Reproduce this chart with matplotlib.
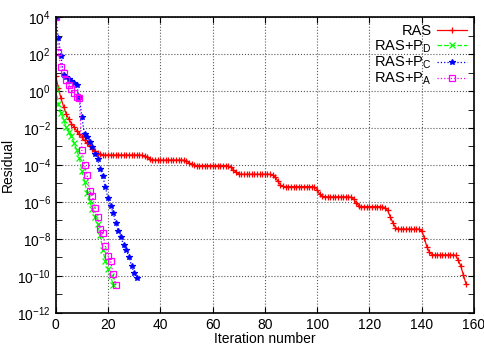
import numpy as np
import matplotlib
matplotlib.use("Agg")
import matplotlib.pyplot as plt

# log10(residual) per iteration
ras_log = [
    0.80, 0.15, -0.40, -0.85, -1.25, -1.52, -1.76, -1.96, -2.15, -2.32,
    -2.50, -2.66, -2.83, -2.98, -3.12, -3.25, -3.36, -3.43, -3.46, -3.46,
    -3.46, -3.46, -3.46, -3.46, -3.46, -3.46, -3.46, -3.46, -3.46, -3.46,
    -3.46, -3.46, -3.46, -3.47, -3.50, -3.58, -3.67, -3.72, -3.73, -3.73,
    -3.73, -3.73, -3.73, -3.73, -3.73, -3.73, -3.73, -3.73, -3.73, -3.74,
    -3.78, -3.88, -3.97, -4.02, -4.03, -4.03, -4.03, -4.03, -4.03, -4.03,
    -4.03, -4.03, -4.03, -4.03, -4.03, -4.03, -4.05, -4.12, -4.26, -4.40,
    -4.48, -4.50, -4.50, -4.50, -4.50, -4.50, -4.50, -4.50, -4.50, -4.50,
    -4.50, -4.50, -4.50, -4.53, -4.65, -4.88, -5.08, -5.16, -5.17, -5.17,
    -5.17, -5.17, -5.17, -5.17, -5.17, -5.17, -5.17, -5.17, -5.17, -5.19,
    -5.33, -5.58, -5.69, -5.71, -5.72, -5.72, -5.72, -5.72, -5.72, -5.72,
    -5.72, -5.72, -5.72, -5.74, -5.85, -6.05, -6.20, -6.25, -6.25, -6.25,
    -6.25, -6.25, -6.25, -6.25, -6.25, -6.26, -6.30, -6.45, -6.80, -7.12,
    -7.38, -7.45, -7.46, -7.46, -7.46, -7.46, -7.46, -7.46, -7.46, -7.47,
    -7.55, -7.92, -8.42, -8.72, -8.84, -8.86, -8.86, -8.86, -8.86, -8.86,
    -8.86, -8.86, -8.86, -8.88, -9.13, -9.46, -9.95, -10.43,
]
pd_log = [
    0.10, -0.70, -1.20, -1.55, -1.95, -2.20, -2.45, -2.80, -3.20, -3.60,
    -4.30, -4.90, -5.50, -5.95, -6.40, -6.80, -7.20, -7.80, -8.60, -9.20,
    -9.60, -10.00, -10.50,
]
pc_log = [
    4.00, 2.85, 1.90, 0.85, 0.75, 0.65, 0.55, 0.42, 0.30, -0.30,
    -1.40, -2.35, -2.50, -2.75, -3.05, -3.40, -3.70, -4.20, -4.60, -5.20,
    -5.80, -6.20, -6.60, -7.15, -7.55, -7.90, -8.35, -8.60, -8.95, -9.45,
    -9.85, -10.10,
]
pa_log = [
    4.00, 2.10, 1.30, 0.95, 0.60, 0.35, 0.10, -0.10, -0.32, -0.36,
    -3.20, -4.00, -4.55, -5.40, -5.70, -6.30, -6.80, -7.45, -7.70, -8.40,
    -8.90, -9.20, -9.90, -10.50,
]

series = [
    ("RAS", ras_log, "#ff0000", "-", "+", dict()),
    ("RAS+P$_D$", pd_log, "#00ff00", "--", "x", dict()),
    ("RAS+P$_C$", pc_log, "#0000ff", ":", "*", dict()),
    ("RAS+P$_A$", pa_log, "#ff00ff", ":", "s", dict(markerfacecolor="none")),
]

plt.rcParams["font.family"] = ["Liberation Sans", "DejaVu Sans"]
plt.rcParams["mathtext.default"] = "regular"
plt.rcParams["font.size"] = 9

fig = plt.figure(figsize=(4.85, 3.47), dpi=100)
ax = fig.add_axes([0.115, 0.098, 0.862, 0.853])

for label, vals, color, ls, mk, extra in series:
    it = np.arange(len(vals))
    ax.semilogy(it, 10.0 ** np.array(vals), color=color, linestyle=ls,
                linewidth=0.9, marker=mk, markersize=4, markeredgewidth=0.9,
                label=label, **extra)

ax.set_xlim(0, 160)
ax.set_ylim(1e-12, 1e4)
ax.set_xticks(np.arange(0, 161, 20))
ax.set_yticks([10.0 ** k for k in range(-12, 5, 2)])
ax.set_yticks([10.0 ** k for k in range(-11, 4, 2)], minor=True)
ax.set_xticks([], minor=True)
ax.tick_params(which="both", direction="in", top=True, right=True)
ax.tick_params(which="major", length=4, labelsize=10)
ax.tick_params(which="minor", length=4, labelleft=False)

ax.grid(True, which="major", linestyle=":", color="0.35", linewidth=0.8)
for s in ax.spines.values():
    s.set_linewidth(1.2)

ax.set_xlabel("Iteration number", fontsize=10, labelpad=0)
ax.set_ylabel("Residual", fontsize=10, labelpad=2)

ax.legend(loc="upper right", frameon=False, markerfirst=False, fontsize=10.5,
          handlelength=2.0, handletextpad=0.4, labelspacing=0.0,
          borderaxespad=0.2, borderpad=0.3)

fig.savefig("out.png", dpi=100)
